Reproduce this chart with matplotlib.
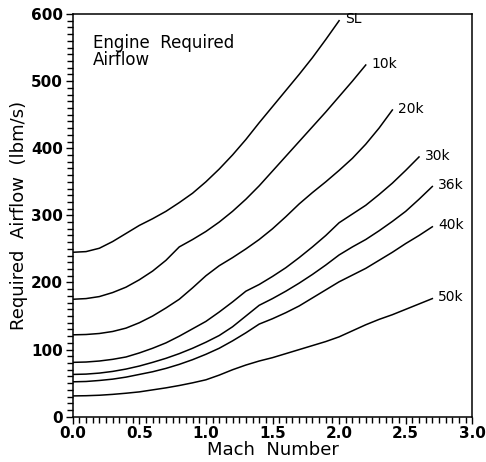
import matplotlib
matplotlib.use('Agg')
from matplotlib import pyplot as plt
from matplotlib.ticker import MultipleLocator

# Mach number steps, shared by every altitude (each curve stops where its list ends)
mach = [0.0, 0.1, 0.2, 0.3, 0.4, 0.5, 0.6, 0.7, 0.8, 0.9, 1.0, 1.1, 1.2, 1.3,
        1.4, 1.5, 1.6, 1.7, 1.8, 1.9, 2.0, 2.1, 2.2, 2.3, 2.4, 2.5, 2.6, 2.7]

# required airflow (lbm/s)
flowSL = [245, 246, 251, 261, 273, 285, 295, 306, 319, 333, 350, 369, 390, 413,
          438, 462, 486, 510, 535, 562, 590]
flow10 = [175, 176, 179, 185, 193, 204, 217, 233, 253, 264, 276, 290, 306, 324,
          344, 366, 388, 410, 432, 454, 477, 500, 524]
flow20 = [122, 122.5, 124, 127, 132, 140, 150, 162, 175, 192, 210, 225, 237, 250,
          264, 280, 298, 317, 334, 350, 367, 385, 406, 430, 457]
flow30 = [81, 81.5, 83, 85.5, 89, 95, 102, 110, 120, 131, 142, 156, 171, 187,
          197, 209, 222, 237, 253, 270, 289, 302, 315, 331, 348, 367, 387]
flow36 = [63, 63.5, 65, 67.5, 71, 75.5, 81, 87, 94, 102, 111, 121, 134, 150,
          166, 176, 187, 199, 212, 226, 241, 253, 264, 277, 291, 306, 324, 343]
flow40 = [52, 52.5, 54, 56, 59, 63, 67, 72, 78, 85, 93, 102, 113, 125,
          138, 146, 155, 165, 177, 189, 201, 211, 221, 233, 245, 258, 270, 283]
flow50 = [31, 31.3, 32, 33.3, 35, 37, 40, 43, 46.5, 50.5, 55, 62, 70, 77,
          83, 88, 94, 100, 106, 112, 119, 128, 137, 145, 152, 160, 168, 176]

curves = [(flowSL, 'SL'), (flow10, '10k'), (flow20, '20k'), (flow30, '30k'),
          (flow36, '36k'), (flow40, '40k'), (flow50, '50k')]

plt.rcParams['font.family'] = 'DejaVu Sans'

fig = plt.figure(figsize=(4.86, 4.62), dpi=100)
ax = fig.add_axes([0.1496, 0.098, 0.8222, 0.8717])

for f, name in curves:
    m = mach[:len(f)]
    ax.plot(m, f, color='black', linewidth=1.1)
    ax.annotate(name, xy=(m[-1], f[-1]), xytext=(4, 1), textcoords='offset points',
                va='center', ha='left', fontsize=10)

ax.text(0.05, 0.95, 'Engine  Required\nAirflow', transform=ax.transAxes,
        fontsize=12, va='top', ha='left', linespacing=0.95)

ax.set_xlim(0, 3.0)
ax.set_ylim(0, 600)
ax.xaxis.set_major_locator(MultipleLocator(0.5))
ax.xaxis.set_minor_locator(MultipleLocator(0.05))
ax.yaxis.set_major_locator(MultipleLocator(100))
ax.yaxis.set_minor_locator(MultipleLocator(10))
ax.xaxis.set_major_formatter(plt.FormatStrFormatter('%.1f'))

ax.tick_params(which='both', direction='out', width=1.0, top=False, right=False)
ax.tick_params(which='major', length=5, labelsize=11, pad=2)
ax.tick_params(which='minor', length=4)
for lab in ax.get_xticklabels() + ax.get_yticklabels():
    lab.set_fontweight('bold')

for s in ax.spines.values():
    s.set_linewidth(1.1)

ax.set_xlabel('Mach  Number', fontsize=13, labelpad=0)
ax.set_ylabel('Required  Airflow  (lbm/s)', fontsize=13, labelpad=2)

fig.savefig('out.png', dpi=100)
